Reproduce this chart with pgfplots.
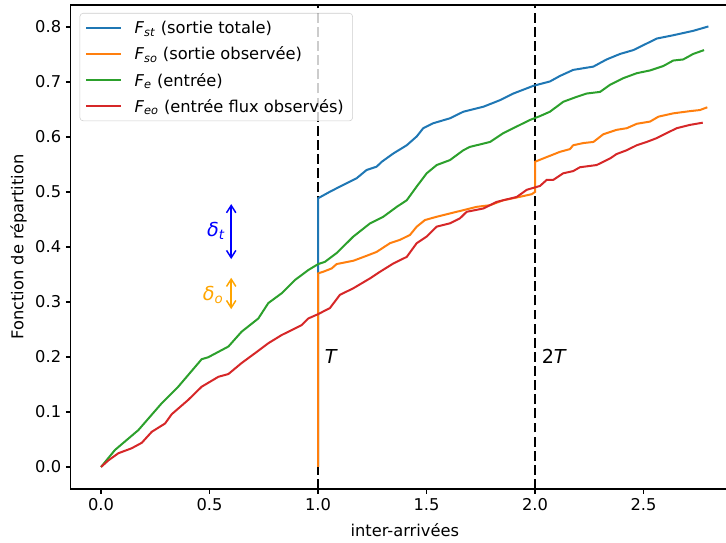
\documentclass[border=0pt]{standalone}
\usepackage{fontspec}
\setmainfont{DejaVu Sans}
\usepackage{pgfplots}
\pgfplotsset{compat=1.18}
\usetikzlibrary{arrows.meta}
\definecolor{tabblue}{HTML}{1F77B4}
\definecolor{taborange}{HTML}{FF7F0E}
\definecolor{tabgreen}{HTML}{2CA02C}
\definecolor{tabred}{HTML}{D62728}
\definecolor{mplorange}{HTML}{FFA500}
\newcommand{\sub}[2]{\textit{#1}\textsubscript{\textit{#2}}}
\begin{document}
\begin{tikzpicture}
\begin{axis}[
  scale only axis, width=501.27pt, height=363pt,
  xmin=-0.14, xmax=2.94, ymin=-0.04, ymax=0.84,
  xtick={0,0.5,1,1.5,2,2.5},
  ytick={0,0.1,0.2,0.3,0.4,0.5,0.6,0.7,0.8},
  xtick pos=lower, ytick pos=left,
  tick align=outside, major tick length=3.6pt,
  tick style={black, line width=0.8pt},
  axis line style={line width=0.8pt},
  /pgf/number format/assume math mode=true,
  xticklabel style={/pgf/number format/.cd, fixed, fixed zerofill, precision=1},
  yticklabel style={/pgf/number format/.cd, fixed, fixed zerofill, precision=1},
  tick label style={font=\fontsize{12.2}{14}\selectfont},
  label style={font=\fontsize{12.2}{14}\selectfont},
  xlabel={inter-arrivées},
  ylabel={Fonction de répartition},
  xlabel style={at={(axis description cs:0.5,-0.0847)}, anchor=center},
  ylabel style={at={(axis description cs:-0.0778,0.5)}, anchor=center},
  legend cell align=left,
  legend image code/.code={\draw[#1] (0pt,0pt) -- (26pt,0pt);},
  legend style={at={(axis description cs:0,1)}, anchor=north west,
    xshift=6.75pt, yshift=-6pt, draw=black!20, rounded corners=2.5pt,
    fill=white, fill opacity=0.8, text opacity=1,
    font=\fontsize{12.2}{14}\selectfont,
    inner xsep=4pt, inner ysep=3.2pt, row sep=4.5pt, column sep=7pt,
    nodes={inner sep=2.6pt, text height=0.95em, text depth=0.05em}},
]
% vertical dashed lines at T and 2T
\addplot[black, line width=2pt, dash pattern=on 7.4pt off 3.2pt, forget plot] coordinates {(1,-0.04) (1,0.84)};
\addplot[black, line width=2pt, dash pattern=on 7.4pt off 3.2pt, forget plot] coordinates {(2,-0.04) (2,0.84)};

% F_st
\addplot[tabblue, line width=1.5pt] coordinates {
(1,0) (1,0.4885) (1.055,0.5005) (1.117,0.513) (1.178,0.525) (1.224,0.540) (1.270,0.546)
(1.294,0.555) (1.347,0.570) (1.409,0.585) (1.455,0.601) (1.485,0.616) (1.531,0.625)
(1.608,0.634) (1.670,0.646) (1.762,0.655) (1.839,0.667) (1.900,0.679) (1.992,0.693)
(2.069,0.701) (2.115,0.711) (2.176,0.722) (2.269,0.728) (2.330,0.741) (2.392,0.751)
(2.453,0.758) (2.515,0.770) (2.561,0.779) (2.637,0.785) (2.729,0.793) (2.799,0.801)};
\addlegendentry{\sub{F}{st} (sortie totale)}

% F_so
\addplot[taborange, line width=1.5pt] coordinates {
(1,0) (1,0.352) (1.024,0.355) (1.063,0.361) (1.086,0.369) (1.163,0.375) (1.224,0.384)
(1.270,0.391) (1.332,0.407) (1.378,0.413) (1.424,0.422) (1.455,0.437) (1.493,0.449)
(1.547,0.455) (1.608,0.461) (1.670,0.467) (1.731,0.473) (1.793,0.476) (1.854,0.485)
(1.916,0.490) (1.985,0.496) (2.0,0.500) (2.0,0.555) (2.038,0.561) (2.115,0.573)
(2.161,0.578) (2.176,0.585) (2.223,0.589) (2.269,0.591) (2.315,0.605) (2.376,0.613)
(2.423,0.616) (2.469,0.624) (2.530,0.628) (2.569,0.637) (2.637,0.643) (2.714,0.647)
(2.760,0.649) (2.794,0.654)};
\addlegendentry{\sub{F}{so} (sortie observée)}

% F_e
\addplot[tabgreen, line width=1.5pt] coordinates {
(0,0) (0.0645,0.031) (0.172,0.067) (0.28,0.116) (0.356,0.146) (0.464,0.196) (0.494,0.1995)
(0.587,0.219) (0.648,0.246) (0.725,0.270) (0.771,0.298) (0.833,0.316) (0.894,0.340)
(0.955,0.358) (1.001,0.369) (1.032,0.373) (1.086,0.389) (1.163,0.419) (1.240,0.443)
(1.301,0.455) (1.363,0.473) (1.409,0.485) (1.455,0.510) (1.501,0.534) (1.547,0.549)
(1.608,0.558) (1.670,0.576) (1.700,0.582) (1.793,0.591) (1.854,0.607) (1.946,0.625)
(1.977,0.631) (2.023,0.638) (2.069,0.646) (2.130,0.664) (2.192,0.673) (2.238,0.679)
(2.300,0.682) (2.346,0.695) (2.407,0.707) (2.469,0.716) (2.530,0.721) (2.591,0.729)
(2.637,0.739) (2.683,0.741) (2.729,0.751) (2.779,0.758)};
\addlegendentry{\sub{F}{e} (entrée)}

% F_eo
\addplot[tabred, line width=1.5pt] coordinates {
(0,0) (0.034,0.012) (0.080,0.025) (0.141,0.034) (0.188,0.044) (0.234,0.064) (0.295,0.079)
(0.326,0.096) (0.402,0.122) (0.464,0.146) (0.541,0.164) (0.587,0.169) (0.648,0.189)
(0.710,0.207) (0.771,0.225) (0.833,0.240) (0.925,0.258) (0.955,0.270) (1.001,0.278)
(1.055,0.289) (1.101,0.313) (1.163,0.325) (1.240,0.343) (1.286,0.355) (1.347,0.370)
(1.409,0.382) (1.455,0.407) (1.501,0.419) (1.547,0.437) (1.608,0.443) (1.654,0.452)
(1.685,0.464) (1.762,0.470) (1.823,0.482) (1.916,0.491) (1.962,0.504) (2.023,0.511)
(2.054,0.522) (2.084,0.522) (2.130,0.534) (2.176,0.538) (2.207,0.545) (2.284,0.549)
(2.346,0.561) (2.376,0.569) (2.423,0.576) (2.469,0.585) (2.515,0.591) (2.561,0.598)
(2.622,0.610) (2.653,0.616) (2.714,0.622) (2.773,0.626)};
\addlegendentry{\sub{F}{eo} (entrée flux observés)}

% delta arrows
\addplot[blue, line width=1.1pt, arrows={Straight Barb[length=5.5pt,width=7pt]-Straight Barb[length=5.5pt,width=7pt]}, forget plot] coordinates {(0.6,0.378) (0.6,0.478)};
\addplot[mplorange, line width=1.1pt, arrows={Straight Barb[length=5.5pt,width=7pt]-Straight Barb[length=5.5pt,width=7pt]}, forget plot] coordinates {(0.6,0.287) (0.6,0.344)};

\node[anchor=base east, inner sep=0pt, text=blue, font=\fontsize{14.4}{17}\selectfont] at (axis cs:0.573,0.419) {\sub{δ}{t}};
\node[anchor=base east, inner sep=0pt, text=mplorange, font=\fontsize{14.4}{17}\selectfont] at (axis cs:0.565,0.303) {\sub{δ}{o}};
\node[anchor=base west, inner sep=0pt, font=\fontsize{14.4}{17}\selectfont] at (axis cs:1.03,0.189) {\textit{T}};
\node[anchor=base west, inner sep=0pt, font=\fontsize{14.4}{17}\selectfont] at (axis cs:2.03,0.189) {2\textit{T}};

\coordinate (bbSW) at (axis cs:-0.46544,-0.13818);
\coordinate (bbNE) at (axis cs:2.88018,0.84909);
\end{axis}
\pgfresetboundingbox
\useasboundingbox (bbSW) rectangle (bbNE);
\end{tikzpicture}
\end{document}
